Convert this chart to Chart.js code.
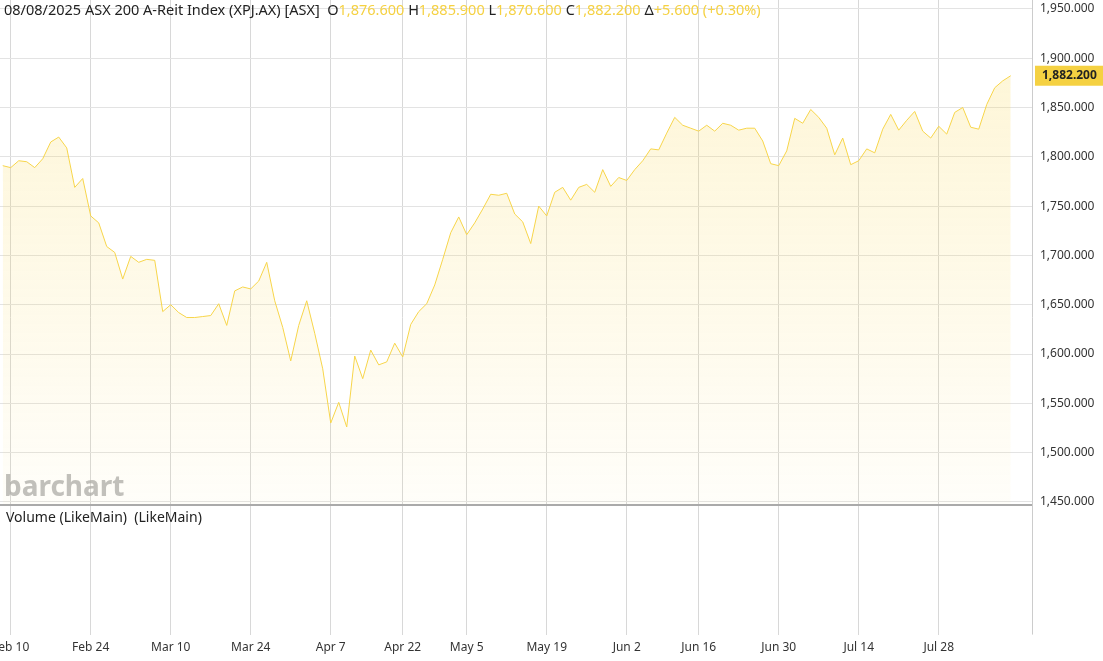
<!DOCTYPE html>
<html><head><meta charset="utf-8">
<script src="https://cdn.jsdelivr.net/npm/chart.js@4/dist/chart.umd.min.js"></script>
<style>html,body{margin:0;padding:0;background:#fff}#w{width:1103px;height:661px}</style>
</head><body><div id="w"><canvas id="c"></canvas></div>
<script>
const closes=[1791,1789,1796,1795,1789,1798,1815,1820,1809,1769,1778,1740,1733,1709,1703,1676,1699,1693,1696,1695,
1643,1650,1642,1637,1637,1638,1639,1651,1629,1664,1668,1666,1674,1693,1654,1627,1593,1629,1654,1621,
1585,1530,1551,1526,1598,1575,1604,1589,1592,1611,1597,1630,1643,1651,1670,1696,1723,1739,1721,1733,
1747,1762,1761,1763,1742,1734,1712,1750,1740,1764,1769,1756,1769,1772,1764,1787,1770,1779,1776,1787,
1796,1808,1807,1824,1840,1832,1829,1826,1832,1826,1834,1832,1827,1829,1829,1816,1793,1791,1806,1839,
1834,1848,1840,1829,1802,1819,1792,1796,1808,1804,1828,1843,1827,1837,1846,1826,1819,1831,1823,1845,
1850,1830,1828,1853,1870,1877,1882.2];
const xTickIdx=[1,11,21,31,41,50,58,68,78,87,97,107,117];
const xTickLabels=['Feb 10','Feb 24','Mar 10','Mar 24','Apr 7','Apr 22','May 5','May 19','Jun 2','Jun 16','Jun 30','Jul 14','Jul 28'];
const yTicks=[1450,1500,1550,1600,1650,1700,1750,1800,1850,1900,1950];
const header=[['08/08/2025 ASX 200 A-Reit Index (XPJ.AX) [ASX]  O','#222'],['1,876.600','#f5d142'],[' H','#222'],['1,885.900','#f5d142'],[' L','#222'],['1,870.600','#f5d142'],[' C','#222'],['1,882.200','#f5d142'],[' \u0394','#222'],['+5.600 (+0.30%)','#f5d142']];
const lastLabel='1,882.200';
const fmt=v=>v.toLocaleString('en-US',{minimumFractionDigits:3,maximumFractionDigits:3});
const F='"Noto Sans", sans-serif';
const noPad=s=>{s.paddingLeft=0;s.paddingRight=0;s.paddingTop=0;s.paddingBottom=0;};
const overlay={id:'ov',
 beforeDatasetsDraw(ch){const c=ch.ctx;
  c.save();c.font='bold 28px '+F;c.fillStyle='rgba(170,170,170,0.75)';c.textBaseline='alphabetic';c.fillText('barchart',4,496);c.restore();},
 afterDraw(ch){const c=ch.ctx,a=ch.chartArea,y=ch.scales.y;
  c.save();
  c.strokeStyle='#aaa';c.lineWidth=2;c.beginPath();c.moveTo(0,y.bottom-1);c.lineTo(a.right,y.bottom-1);c.stroke();
  c.strokeStyle='#ccc';c.lineWidth=1;c.beginPath();c.moveTo(a.right+0.5,0);c.lineTo(a.right+0.5,a.bottom);c.stroke();
  c.font='14.5px '+F;c.textBaseline='middle';let x=4;
  for(const [t,col] of header){c.fillStyle=col;c.fillText(t,x,11);x+=c.measureText(t).width;}
  c.font='14px '+F;c.fillStyle='#222';c.fillText('Volume (LikeMain)  (LikeMain)',6,518);
  const py=y.getPixelForValue(closes[closes.length-1]);
  c.fillStyle='#f5d142';c.fillRect(a.right+3,py-10,1103-a.right-3,20);
  c.fillStyle='#222';c.font='bold 12px '+F;c.fillText(lastLabel,a.right+10,py);
  c.restore();}
};
new Chart(document.getElementById('c'),{type:'line',
 data:{datasets:[{data:closes.map((v,i)=>({x:i,y:v})),borderColor:'#f7d54a',borderWidth:1,pointRadius:0,tension:0,yAxisID:'y',
  fill:'start',backgroundColor:(ctx)=>{const ch=ctx.chart,a=ch.chartArea;if(!a)return 'rgba(250,215,80,0.12)';
   const g=ch.ctx.createLinearGradient(0,80,0,ch.scales.y.bottom);g.addColorStop(0,'rgba(250,215,80,0.22)');g.addColorStop(1,'rgba(250,215,80,0.03)');return g;}}]},
 options:{responsive:true,maintainAspectRatio:false,animation:false,layout:{padding:0},
  plugins:{legend:{display:false},tooltip:{enabled:false}},
  scales:{
   x:{type:'linear',min:-0.34,max:128.66,border:{display:false},
    afterBuildTicks:s=>{s.ticks=xTickIdx.map(v=>({value:v}));},
    afterFit:noPad,
    ticks:{autoSkip:false,maxRotation:0,color:'#333',font:{family:F,size:12},padding:6,callback:(v)=>xTickLabels[xTickIdx.indexOf(v)]},
    grid:{color:'#d8d8d8',drawTicks:false}},
   y:{type:'linear',position:'right',stack:'r',stackWeight:3.93,min:1446,max:1959,border:{display:false},
    afterBuildTicks:s=>{s.ticks=yTicks.map(v=>({value:v}));},
    afterFit:s=>{s.width=71;noPad(s);},
    ticks:{color:'#333',font:{family:F,size:12},padding:8,callback:v=>fmt(v)},
    grid:{color:'#e3e3e3',drawTicks:false}},
   vol:{type:'linear',position:'right',stack:'r',stackWeight:1,min:0,max:1,offset:false,border:{display:false},
    afterFit:s=>{s.width=71;noPad(s);},ticks:{display:false},grid:{display:false}}
  }},
 plugins:[overlay]});
</script></body></html>
